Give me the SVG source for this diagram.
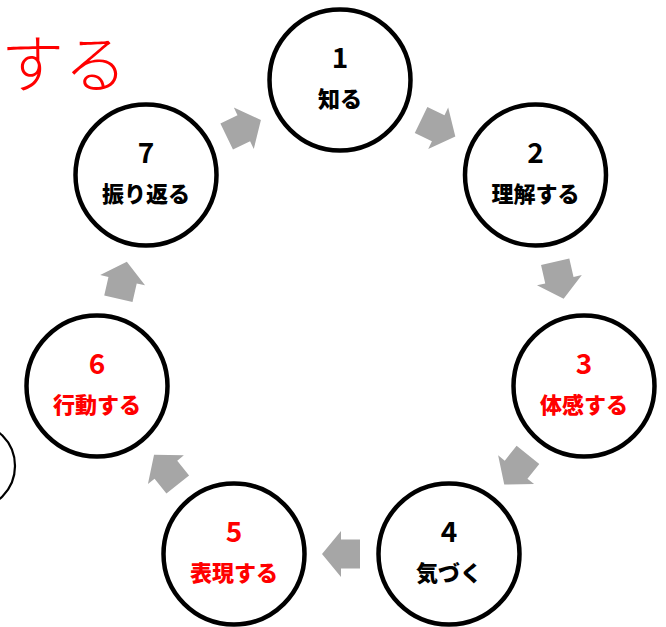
<svg xmlns="http://www.w3.org/2000/svg" xmlns:xlink="http://www.w3.org/1999/xlink" width="666" height="627" viewBox="0 0 666 627">
<style>
.node circle{fill:#fff;stroke:#000;stroke-width:4.5}
.num{font-family:"Liberation Sans Narrow","Noto Sans CJK JP","Liberation Sans",sans-serif;font-size:28px;font-weight:700;text-anchor:middle}
.lbl{font-family:"Noto Sans CJK JP",sans-serif;font-size:22px;font-weight:900;text-anchor:middle}
.blk{fill:#000}
.red{fill:#FF0000}
.arr{fill:#A6A6A6}
</style>
<defs>
<path id="blockArrow" d="M-19,-14.5 L0,-14.5 L0,-23 L19,0 L0,23 L0,14.5 L-19,14.5 Z"/>
</defs>
<rect width="666" height="627" fill="#fff"/>
<text x="127" y="87" font-family="'Noto Sans CJK JP',sans-serif" font-size="63" font-weight="300" fill="#FF0000" text-anchor="end">する</text>
<circle cx="-28" cy="466" r="43" fill="none" stroke="#000" stroke-width="2.2"/>
<g id="connectors" class="arr">
<use xlink:href="#blockArrow" transform="translate(438.2,128.2) rotate(25.71)"/>
<use xlink:href="#blockArrow" transform="translate(559.4,280.2) rotate(77.14)"/>
<use xlink:href="#blockArrow" transform="translate(516.1,469.7) rotate(128.57)"/>
<use xlink:href="#blockArrow" transform="translate(341,554) rotate(180)"/>
<use xlink:href="#blockArrow" transform="translate(165.9,469.7) rotate(231.43)"/>
<use xlink:href="#blockArrow" transform="translate(122.6,280.2) rotate(282.86)"/>
<use xlink:href="#blockArrow" transform="translate(243.8,128.2) rotate(334.29)"/>
</g>
<g id="node1" class="node"><circle cx="340" cy="80" r="70.5"/><text class="num blk" x="340" y="68">1</text><text class="lbl blk" x="340" y="107">知る</text></g>
<g id="node2" class="node"><circle cx="535.5" cy="175" r="70.5"/><text class="num blk" x="535.5" y="163">2</text><text class="lbl blk" x="535.5" y="202">理解する</text></g>
<g id="node3" class="node"><circle cx="584" cy="386" r="70.5"/><text class="num red" x="584" y="374">3</text><text class="lbl red" x="584" y="413">体感する</text></g>
<g id="node4" class="node"><circle cx="449" cy="554" r="70.5"/><text class="num blk" x="449" y="542">4</text><text class="lbl blk" x="449" y="581">気づく</text></g>
<g id="node5" class="node"><circle cx="234" cy="554" r="70.5"/><text class="num red" x="234" y="542">5</text><text class="lbl red" x="234" y="581">表現する</text></g>
<g id="node6" class="node"><circle cx="97" cy="386" r="70.5"/><text class="num red" x="97" y="374">6</text><text class="lbl red" x="97" y="413">行動する</text></g>
<g id="node7" class="node"><circle cx="146" cy="175" r="70.5"/><text class="num blk" x="146" y="163">7</text><text class="lbl blk" x="146" y="202">振り返る</text></g>
</svg>
